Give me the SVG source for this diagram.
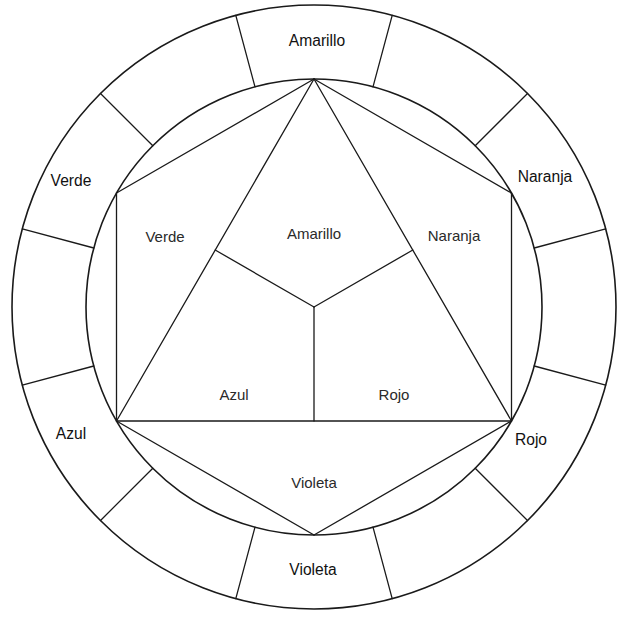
<svg xmlns="http://www.w3.org/2000/svg" width="640" height="623" viewBox="0 0 640 623">
<style>
.ln{fill:none;stroke:#1a1a1a;stroke-width:1.3;stroke-linecap:round;stroke-linejoin:round}
.circ{fill:none;stroke:#1a1a1a;stroke-width:1.6}
.outer{font-family:"Liberation Sans",Arial,sans-serif;font-size:15.6px;fill:#111;text-anchor:middle}
.inner{font-family:"Liberation Sans",Arial,sans-serif;font-size:15px;fill:#2a2a2a;text-anchor:middle}
</style>
<rect width="640" height="623" fill="#fff"/>
<g id="wheel">
<circle class="circ" cx="314" cy="307" r="302"/>
<circle class="circ" cx="314" cy="307" r="228"/>
</g>
<g id="connectors">
<g id="ring-dividers">
<line class="ln" x1="373.0" y1="86.8" x2="392.2" y2="15.3"/>
<line class="ln" x1="475.2" y1="145.8" x2="527.5" y2="93.5"/>
<line class="ln" x1="534.2" y1="248.0" x2="605.7" y2="228.8"/>
<line class="ln" x1="534.2" y1="366.0" x2="605.7" y2="385.2"/>
<line class="ln" x1="475.2" y1="468.2" x2="527.5" y2="520.5"/>
<line class="ln" x1="373.0" y1="527.2" x2="392.2" y2="598.7"/>
<line class="ln" x1="255.0" y1="527.2" x2="235.8" y2="598.7"/>
<line class="ln" x1="152.8" y1="468.2" x2="100.5" y2="520.5"/>
<line class="ln" x1="93.8" y1="366.0" x2="22.3" y2="385.2"/>
<line class="ln" x1="93.8" y1="248.0" x2="22.3" y2="228.8"/>
<line class="ln" x1="152.8" y1="145.8" x2="100.5" y2="93.5"/>
<line class="ln" x1="255.0" y1="86.8" x2="235.8" y2="15.3"/>
</g>
<g id="hexagon">
<line class="ln" x1="314" y1="79" x2="116.5" y2="193"/>
<line class="ln" x1="314" y1="79" x2="511.5" y2="193"/>
<line class="ln" x1="116.5" y1="193" x2="116.5" y2="421"/>
<line class="ln" x1="511.5" y1="193" x2="511.5" y2="421"/>
<line class="ln" x1="116.5" y1="421" x2="314" y2="535"/>
<line class="ln" x1="511.5" y1="421" x2="314" y2="535"/>
</g>
<g id="triangle">
<line class="ln" x1="314" y1="79" x2="116.5" y2="421"/>
<line class="ln" x1="314" y1="79" x2="511.5" y2="421"/>
<line class="ln" x1="116.5" y1="421" x2="511.5" y2="421"/>
</g>
<g id="triangle-split">
<line class="ln" x1="314" y1="307" x2="215.2" y2="250"/>
<line class="ln" x1="314" y1="307" x2="412.8" y2="250"/>
<line class="ln" x1="314" y1="307" x2="314" y2="421"/>
</g>
</g>
<g id="outer-amarillo"><text class="outer" x="317" y="46">Amarillo</text></g>
<g id="outer-naranja"><text class="outer" x="545" y="182">Naranja</text></g>
<g id="outer-rojo"><text class="outer" x="531" y="445">Rojo</text></g>
<g id="outer-violeta"><text class="outer" x="313" y="575">Violeta</text></g>
<g id="outer-azul"><text class="outer" x="71" y="439">Azul</text></g>
<g id="outer-verde"><text class="outer" x="71" y="186">Verde</text></g>
<g id="inner-verde"><text class="inner" x="165" y="242">Verde</text></g>
<g id="inner-amarillo"><text class="inner" x="314" y="239">Amarillo</text></g>
<g id="inner-naranja"><text class="inner" x="454" y="241">Naranja</text></g>
<g id="inner-azul"><text class="inner" x="234" y="400">Azul</text></g>
<g id="inner-rojo"><text class="inner" x="394" y="400">Rojo</text></g>
<g id="inner-violeta"><text class="inner" x="314" y="488">Violeta</text></g>
</svg>
